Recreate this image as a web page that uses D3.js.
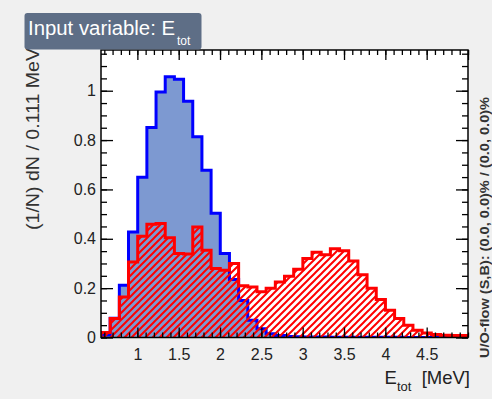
<!DOCTYPE html>
<html>
<head>
<meta charset="utf-8">
<script src="https://cdn.jsdelivr.net/npm/d3@7"></script>
<style>
  html, body { margin: 0; padding: 0; background: #f0f0f0; }
  svg { display: block; font-family: "Liberation Sans", Arial, Helvetica, sans-serif; }
</style>
</head>
<body>
<svg id="chart" width="492" height="399"></svg>
<script>
// Binning of E_tot: 40 bins of 0.111 MeV between 0.56 and 5.0 MeV
const binLow = 0.56;
const binHigh = 5.0;
const nBins = 40;

// Normalised signal distribution (1/N dN per bin)
const signalValues = [
  0.010, 0.078, 0.212, 0.428, 0.649, 0.851, 0.995, 1.057, 1.046, 0.957,
  0.813, 0.678, 0.503, 0.340, 0.235, 0.150, 0.070, 0.035, 0.015, 0.008,
  0.004, 0.003, 0.002, 0.002, 0.002, 0.001, 0.001, 0.001, 0.001, 0.001,
  0.001, 0.001, 0.001, 0.000, 0.000, 0.000, 0.000, 0.000, 0.000, 0.000
];

// Normalised background distribution (1/N dN per bin)
const backgroundValues = [
  0.020, 0.077, 0.164, 0.306, 0.410, 0.459, 0.462, 0.404, 0.340, 0.338,
  0.448, 0.354, 0.280, 0.273, 0.300, 0.210, 0.205, 0.185, 0.200, 0.225,
  0.248, 0.277, 0.320, 0.345, 0.335, 0.360, 0.352, 0.310, 0.254, 0.200,
  0.154, 0.110, 0.077, 0.050, 0.029, 0.018, 0.012, 0.009, 0.008, 0.008
];

const xTickLabels = [1, 1.5, 2, 2.5, 3, 3.5, 4, 4.5];
const yTickLabels = [0, 0.2, 0.4, 0.6, 0.8, 1];
const yMax = 1.165;

const frame = { left: 101, right: 468, top: 50, bottom: 337.5 };

const svg = d3.select("#chart");
const x = d3.scaleLinear().domain([binLow, binHigh]).range([frame.left, frame.right]);
const y = d3.scaleLinear().domain([0, yMax]).range([frame.bottom, frame.top]);
const binWidth = (binHigh - binLow) / nBins;

// plot area
svg.append("rect")
  .attr("x", frame.left).attr("y", frame.top)
  .attr("width", frame.right - frame.left).attr("height", frame.bottom - frame.top)
  .attr("fill", "#ffffff");

const defs = svg.append("defs");
defs.append("clipPath").attr("id", "plotClip")
  .append("rect")
  .attr("x", frame.left).attr("y", frame.top)
  .attr("width", frame.right - frame.left).attr("height", frame.bottom - frame.top);

// red diagonal hatching for the background histogram
const hatch = defs.append("pattern")
  .attr("id", "hatch")
  .attr("patternUnits", "userSpaceOnUse")
  .attr("width", 7).attr("height", 7);
hatch.append("path")
  .attr("d", "M0,7 L7,0 M-2,2 L2,-2 M5,9 L9,5")
  .attr("stroke", "#ff0000")
  .attr("stroke-width", 2)
  .attr("fill", "none");

// step outline of a histogram, closed on the baseline
function histPath(values) {
  const p = d3.path();
  p.moveTo(x(binLow), y(0));
  values.forEach((v, i) => {
    const x0 = x(binLow + i * binWidth);
    const x1 = x(binLow + (i + 1) * binWidth);
    p.lineTo(x0, y(v));
    p.lineTo(x1, y(v));
  });
  p.lineTo(x(binHigh), y(0));
  return p.toString();
}

const plot = svg.append("g").attr("clip-path", "url(#plotClip)");

plot.append("path")
  .attr("d", histPath(signalValues) + "Z")
  .attr("fill", "#7d99d1")
  .attr("stroke", "none");
plot.append("path")
  .attr("d", histPath(signalValues))
  .attr("fill", "none")
  .attr("stroke", "#0000ff")
  .attr("stroke-width", 3)
  .attr("stroke-linejoin", "miter");

plot.append("path")
  .attr("d", histPath(backgroundValues) + "Z")
  .attr("fill", "url(#hatch)")
  .attr("stroke", "none");
plot.append("path")
  .attr("d", histPath(backgroundValues))
  .attr("fill", "none")
  .attr("stroke", "#ff0000")
  .attr("stroke-width", 3)
  .attr("stroke-linejoin", "miter");

// axes: ticks drawn inward on all four sides
const xMajor = d3.range(0.5, 5.01, 0.5).filter(v => v >= binLow && v <= binHigh);
const xMinor = d3.range(0.6, 5.001, 0.1).map(v => +v.toFixed(2)).filter(v => v >= binLow && v <= binHigh);
const yMajor = d3.range(0, yMax, 0.2);
const yMinor = d3.range(0, yMax, 0.05).map(v => +v.toFixed(2));

function styleAxis(g) {
  g.select(".domain").remove();
  g.selectAll(".tick line").attr("stroke", "#000").attr("stroke-width", 1.3);
  g.selectAll("text").attr("fill", "#222").attr("font-size", 16);
}

svg.append("g").attr("transform", `translate(0,${frame.bottom})`)
  .call(d3.axisBottom(x).tickValues(xMinor).tickSize(-5).tickFormat(""))
  .call(styleAxis);
svg.append("g").attr("transform", `translate(0,${frame.bottom})`)
  .call(d3.axisBottom(x).tickValues(xTickLabels).tickSize(-10).tickPadding(11)
    .tickFormat(d3.format("")))
  .call(styleAxis);
svg.append("g").attr("transform", `translate(0,${frame.top})`)
  .call(d3.axisTop(x).tickValues(xMinor).tickSize(-5).tickFormat(""))
  .call(styleAxis);
svg.append("g").attr("transform", `translate(0,${frame.top})`)
  .call(d3.axisTop(x).tickValues(xMajor).tickSize(-10).tickFormat(""))
  .call(styleAxis);

svg.append("g").attr("transform", `translate(${frame.left},0)`)
  .call(d3.axisLeft(y).tickValues(yMinor).tickSize(-6).tickFormat(""))
  .call(styleAxis);
svg.append("g").attr("transform", `translate(${frame.left},0)`)
  .call(d3.axisLeft(y).tickValues(yTickLabels).tickSize(-12).tickPadding(5)
    .tickFormat(d3.format("")))
  .call(styleAxis);
svg.append("g").attr("transform", `translate(${frame.right},0)`)
  .call(d3.axisRight(y).tickValues(yMinor).tickSize(-6).tickFormat(""))
  .call(styleAxis);
svg.append("g").attr("transform", `translate(${frame.right},0)`)
  .call(d3.axisRight(y).tickValues(yMajor).tickSize(-12).tickFormat(""))
  .call(styleAxis);

// frame
svg.append("rect")
  .attr("x", frame.left).attr("y", frame.top)
  .attr("width", frame.right - frame.left).attr("height", frame.bottom - frame.top)
  .attr("fill", "none").attr("stroke", "#000").attr("stroke-width", 1.5);

// x axis title
const xTitle = svg.append("text")
  .attr("x", frame.right + 2).attr("y", 384)
  .attr("text-anchor", "end")
  .attr("font-size", 18.5).attr("fill", "#222");
xTitle.append("tspan").text("E");
xTitle.append("tspan").attr("font-size", 13).attr("dy", 7).text("tot");
xTitle.append("tspan").attr("dy", -7).text("\u00a0 [MeV]");

// y axis title
svg.append("text")
  .attr("transform", "translate(39,48) rotate(-90)")
  .attr("text-anchor", "end")
  .attr("font-size", 18).attr("fill", "#333")
  .attr("textLength", 182).attr("lengthAdjust", "spacingAndGlyphs")
  .text("(1/N) dN / 0.111 MeV");

// under/overflow note on the right
svg.append("text")
  .attr("transform", "translate(489,358) rotate(-90)")
  .attr("text-anchor", "start")
  .attr("font-size", 12.5).attr("font-weight", "bold").attr("fill", "#333")
  .attr("textLength", 261).attr("lengthAdjust", "spacingAndGlyphs")
  .text("U/O-flow (S,B): (0.0, 0.0)% / (0.0, 0.0)%");

// title box
svg.append("rect")
  .attr("x", 24.5).attr("y", 13).attr("width", 177).attr("height", 36.5)
  .attr("rx", 3)
  .attr("fill", "#5e6e86");
svg.append("text")
  .attr("x", 28).attr("y", 34.5)
  .attr("font-size", 19.5).attr("fill", "#ffffff")
  .attr("textLength", 147).attr("lengthAdjust", "spacingAndGlyphs")
  .text("Input variable: E");
svg.append("text")
  .attr("x", 177).attr("y", 45)
  .attr("font-size", 12).attr("fill", "#ffffff")
  .text("tot");
</script>
</body>
</html>
